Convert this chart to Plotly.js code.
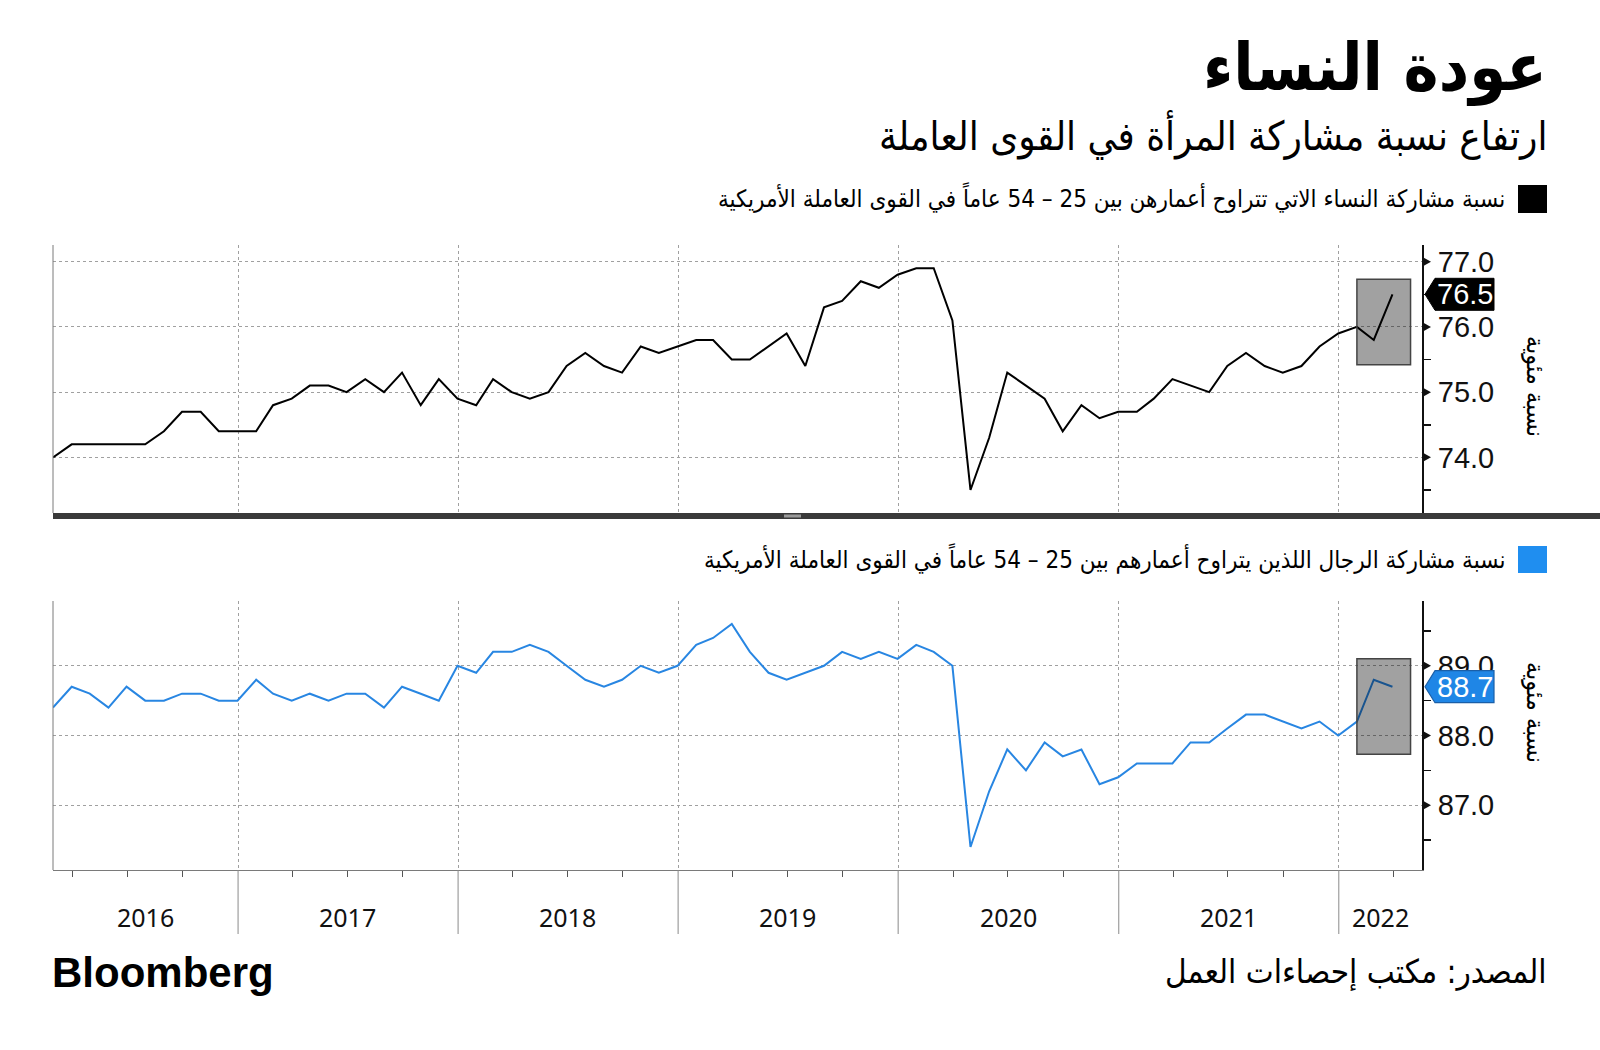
<!DOCTYPE html>
<html>
<head>
<meta charset="utf-8">
<script src="https://cdn.plot.ly/plotly-3.0.1.min.js"></script>
<style>
html,body{margin:0;padding:0;background:#ffffff;}
#chart{width:1600px;height:1050px;}
</style>
</head>
<body>
<div id="chart"></div>
<script>
// ---------------- DATA ----------------
const months = [
  '2016-02','2016-03','2016-04','2016-05','2016-06','2016-07','2016-08','2016-09','2016-10','2016-11','2016-12',
  '2017-01','2017-02','2017-03','2017-04','2017-05','2017-06','2017-07','2017-08','2017-09','2017-10','2017-11','2017-12',
  '2018-01','2018-02','2018-03','2018-04','2018-05','2018-06','2018-07','2018-08','2018-09','2018-10','2018-11','2018-12',
  '2019-01','2019-02','2019-03','2019-04','2019-05','2019-06','2019-07','2019-08','2019-09','2019-10','2019-11','2019-12',
  '2020-01','2020-02','2020-03','2020-04','2020-05','2020-06','2020-07','2020-08','2020-09','2020-10','2020-11','2020-12',
  '2021-01','2021-02','2021-03','2021-04','2021-05','2021-06','2021-07','2021-08','2021-09','2021-10','2021-11','2021-12',
  '2022-01','2022-02','2022-03'
];

// Women 25-54 labor force participation rate (%)
const women = [
  74.0,74.2,74.2,74.2,74.2,74.2,74.4,74.7,74.7,74.4,74.4,
  74.4,74.8,74.9,75.1,75.1,75.0,75.2,75.0,75.3,74.8,75.2,74.9,
  74.8,75.2,75.0,74.9,75.0,75.4,75.6,75.4,75.3,75.7,75.6,75.7,
  75.8,75.8,75.5,75.5,75.7,75.9,75.4,76.3,76.4,76.7,76.6,76.8,
  76.9,76.9,76.1,73.5,74.3,75.3,75.1,74.9,74.4,74.8,74.6,74.7,
  74.7,74.9,75.2,75.1,75.0,75.4,75.6,75.4,75.3,75.4,75.7,75.9,
  76.0,75.8,76.5
];

// Men 25-54 labor force participation rate (%)
const men = [
  88.4,88.7,88.6,88.4,88.7,88.5,88.5,88.6,88.6,88.5,88.5,
  88.8,88.6,88.5,88.6,88.5,88.6,88.6,88.4,88.7,88.6,88.5,89.0,
  88.9,89.2,89.2,89.3,89.2,89.0,88.8,88.7,88.8,89.0,88.9,89.0,
  89.3,89.4,89.6,89.2,88.9,88.8,88.9,89.0,89.2,89.1,89.2,89.1,
  89.3,89.2,89.0,86.4,87.2,87.8,87.5,87.9,87.7,87.8,87.3,87.4,
  87.6,87.6,87.6,87.9,87.9,88.1,88.3,88.3,88.2,88.1,88.2,88.0,
  88.2,88.8,88.7
];

const years = ['2016','2017','2018','2019','2020','2021','2022'];
const womenTickVals = [74, 75, 76, 77];
const womenTickText = ['74.0', '75.0', '76.0', '77.0'];
const womenMinorVals = [73.5, 74.5, 75.5, 76.5];
const menTickVals = [87, 88, 89];
const menTickText = ['87.0', '88.0', '89.0'];
const menMinorVals = [86.5, 87.5, 88.5, 89.5];
const highlightMonths = ['2022-01', '2022-04'];
const womenHighlight = [75.42, 76.73];
const menHighlight = [87.73, 89.10];

const titleText = 'عودة النساء';
const subtitleText = 'ارتفاع نسبة مشاركة المرأة في القوى العاملة';
const legendWomen = 'نسبة مشاركة النساء الاتي تتراوح أعمارهن بين 25 – 54 عاماً في القوى العاملة الأمريكية';
const legendMen = 'نسبة مشاركة الرجال اللذين يتراوح أعمارهم بين 25 – 54 عاماً في القوى العاملة الأمريكية';
const yTitle = 'نسبة مئوية';
const sourceText = 'المصدر: مكتب إحصاءات العمل';
const brandText = 'Bloomberg';

// ---------------- HELPERS ----------------
function monthEnd(label) {
  const p = label.split('-');
  const d = new Date(Date.UTC(+p[0], +p[1], 0));
  return d.toISOString().slice(0, 10);
}
const dates = months.map(monthEnd);

const W = 1600, Hh = 1050;
const M = {l: 53, r: 178, t: 245, b: 180};
const PW = W - M.l - M.r, PH = Hh - M.t - M.b;
const px = x => (x - M.l) / PW;          // pixel -> paper x
const py = y => (Hh - M.b - y) / PH;     // pixel -> paper y

const topDomain = [py(513), 1];
const botDomain = [0, py(601)];
const xRange = ['2016-02-29', '2022-05-19'];

const blue = '#2886e2';
const arFont = 'DejaVu Sans Condensed, DejaVu Sans, sans-serif';
const numFont = 'Liberation Sans, Arial, sans-serif';

// ---------------- TRACES ----------------
const traces = [
  {x: dates, y: women, type: 'scatter', mode: 'lines', xaxis: 'x', yaxis: 'y',
   line: {color: '#000000', width: 2}, hoverinfo: 'skip', showlegend: false},
  {x: dates, y: men, type: 'scatter', mode: 'lines', xaxis: 'x2', yaxis: 'y2',
   line: {color: blue, width: 2}, hoverinfo: 'skip', showlegend: false}
];

// ---------------- AXES ----------------
const yearStarts = years.slice(1).map(y => y + '-01-01');
const quarterTicks = [];
years.forEach(y => ['04', '07', '10'].forEach(m => quarterTicks.push(y + '-' + m + '-01')));

function xAxis(anchor, bottom) {
  return {
    type: 'date', range: xRange, anchor: anchor, domain: [0, 1],
    tickmode: 'array', tickvals: yearStarts, showticklabels: false, ticks: '',
    showgrid: true, gridcolor: '#a0a0a0', griddash: 'dot', gridwidth: 1,
    zeroline: false, showline: bottom, linecolor: '#7a7a7a', linewidth: 1,
    minor: bottom ? {tickmode: 'array', tickvals: quarterTicks, ticks: 'outside',
                     ticklen: 6, tickcolor: '#555', tickwidth: 1, showgrid: false} : undefined,
    fixedrange: true
  };
}
function yAxis(anchor, domain, range, vals, text, minor) {
  return {
    anchor: anchor, domain: domain, range: range, side: 'right',
    tickmode: 'array', tickvals: vals, ticktext: text, ticks: '',
    ticklabelstandoff: 8,
    tickfont: {family: numFont, size: 29, color: '#111'},
    showgrid: true, gridcolor: '#a0a0a0', griddash: 'dot', gridwidth: 1,
    zeroline: false, showline: true, linecolor: '#111', linewidth: 2,
    minor: {tickmode: 'array', tickvals: minor, ticks: 'outside', ticklen: 7,
            tickcolor: '#111', tickwidth: 1.5, showgrid: false},
    fixedrange: true
  };
}

// ---------------- SHAPES ----------------
const shapes = [];
// highlight boxes
shapes.push({type: 'rect', xref: 'x', yref: 'y', layer: 'above',
  x0: monthEnd(highlightMonths[0]), x1: monthEnd(highlightMonths[1]),
  y0: womenHighlight[0], y1: womenHighlight[1],
  fillcolor: 'rgba(0,0,0,0.37)', line: {color: '#444', width: 1.5}});
shapes.push({type: 'rect', xref: 'x2', yref: 'y2', layer: 'above',
  x0: monthEnd(highlightMonths[0]), x1: monthEnd(highlightMonths[1]),
  y0: menHighlight[0], y1: menHighlight[1],
  fillcolor: 'rgba(0,0,0,0.37)', line: {color: '#444', width: 1.5}});
// triangle tick markers on right axes
function triangles(yref, vals) {
  vals.forEach(v => shapes.push({type: 'path', xref: 'paper', yref: yref,
    xsizemode: 'pixel', ysizemode: 'pixel', xanchor: 1, yanchor: v,
    path: 'M0,-5 L9,0 L0,5 Z', fillcolor: '#111', line: {width: 0}}));
}
triangles('y', womenTickVals);
triangles('y2', menTickVals);
// last-value pointer labels
shapes.push({type: 'path', xref: 'paper', yref: 'y', xsizemode: 'pixel', ysizemode: 'pixel',
  xanchor: 1, yanchor: women[women.length - 1],
  path: 'M3,0 L13,16 L72,16 L72,-16 L13,-16 Z', fillcolor: '#000', line: {color: '#000', width: 1}});
shapes.push({type: 'path', xref: 'paper', yref: 'y2', xsizemode: 'pixel', ysizemode: 'pixel',
  xanchor: 1, yanchor: men[men.length - 1],
  path: 'M3,0 L13,16 L72,16 L72,-16 L13,-16 Z', fillcolor: '#1f86e6', line: {color: '#1a5fa8', width: 1.2}});
// left axis lines
shapes.push({type: 'line', xref: 'paper', yref: 'paper', x0: 0, x1: 0, y0: topDomain[0], y1: 1,
  line: {color: '#7a7a7a', width: 1}});
shapes.push({type: 'line', xref: 'paper', yref: 'paper', x0: 0, x1: 0, y0: 0, y1: botDomain[1],
  line: {color: '#7a7a7a', width: 1}});
// panel separator bar
shapes.push({type: 'rect', xref: 'paper', yref: 'paper', x0: 0, x1: px(1600),
  y0: py(519), y1: py(513), fillcolor: '#3a3a3a', line: {width: 0}});
shapes.push({type: 'rect', xref: 'paper', yref: 'paper', x0: px(784), x1: px(801),
  y0: py(517.5), y1: py(514.5), fillcolor: '#9a9a9a', line: {width: 0}});
// year separators under bottom axis
yearStarts.forEach(d => shapes.push({type: 'line', xref: 'x2', yref: 'paper', x0: d, x1: d,
  y0: 0, y1: py(934), line: {color: '#8a8a8a', width: 1}}));
// legend squares
shapes.push({type: 'rect', xref: 'paper', yref: 'paper', x0: px(1518), x1: px(1547),
  y0: py(213), y1: py(185), fillcolor: '#000', line: {width: 0}});
shapes.push({type: 'rect', xref: 'paper', yref: 'paper', x0: px(1518), x1: px(1547),
  y0: py(573), y1: py(546), fillcolor: '#1f8ef0', line: {width: 0}});

// ---------------- ANNOTATIONS ----------------
const ann = [];
function txt(text, x, y, xanchor, size, opts) {
  ann.push(Object.assign({text: text, xref: 'paper', yref: 'paper', x: px(x), y: py(y),
    xanchor: xanchor, yanchor: 'middle', showarrow: false,
    font: {family: arFont, size: size, color: '#000'}}, opts || {}));
}
txt('<b>' + titleText + '</b>', 1549, 68, 'right', 66);
txt(subtitleText, 1549, 135, 'right', 40);
txt(legendWomen, 1507, 197, 'right', 24);
txt(legendMen, 1507, 558, 'right', 24);
txt('<b>' + brandText + '</b>', 50, 972, 'left', 42, {font: {family: 'Liberation Sans, Arial, sans-serif', size: 42, color: '#000'}});
txt(sourceText, 1549, 972, 'right', 33);
txt(yTitle, 1536, 386, 'center', 25, {textangle: 90});
txt(yTitle, 1536, 712, 'center', 25, {textangle: 90});

// last value texts
ann.push({text: women[women.length - 1].toFixed(1), xref: 'paper', yref: 'y', x: px(1465), y: women[women.length - 1],
  xanchor: 'center', yanchor: 'middle', showarrow: false,
  font: {family: numFont, size: 29, color: '#fff'}});
ann.push({text: men[men.length - 1].toFixed(1), xref: 'paper', yref: 'y2', x: px(1465), y: men[men.length - 1],
  xanchor: 'center', yanchor: 'middle', showarrow: false,
  font: {family: numFont, size: 29, color: '#fff'}});

// year labels centred in visible span of each year
const xMin = new Date(xRange[0]).getTime(), xMax = new Date(xRange[1]).getTime();
years.forEach(y => {
  const s = Math.max(new Date(y + '-01-01').getTime(), xMin);
  const e = Math.min(new Date((+y + 1) + '-01-01').getTime(), xMax);
  const mid = new Date((s + e) / 2).toISOString().slice(0, 10);
  ann.push({text: y, xref: 'x2', yref: 'paper', x: mid, y: py(917),
    xanchor: 'center', yanchor: 'middle', showarrow: false,
    font: {family: 'Noto Sans, Open Sans, sans-serif', size: 25, color: '#111'}});
});

// ---------------- LAYOUT ----------------
const layout = {
  width: W, height: Hh,
  margin: M,
  paper_bgcolor: '#ffffff', plot_bgcolor: 'rgba(0,0,0,0)',
  showlegend: false,
  xaxis: xAxis('y', false),
  xaxis2: xAxis('y2', true),
  yaxis: yAxis('x', topDomain, [73.147, 77.256], womenTickVals, womenTickText, womenMinorVals),
  yaxis2: yAxis('x2', botDomain, [86.07, 89.93], menTickVals, menTickText, menMinorVals),
  shapes: shapes,
  annotations: ann
};

Plotly.newPlot('chart', traces, layout, {displayModeBar: false, staticPlot: true});
</script>
</body>
</html>
